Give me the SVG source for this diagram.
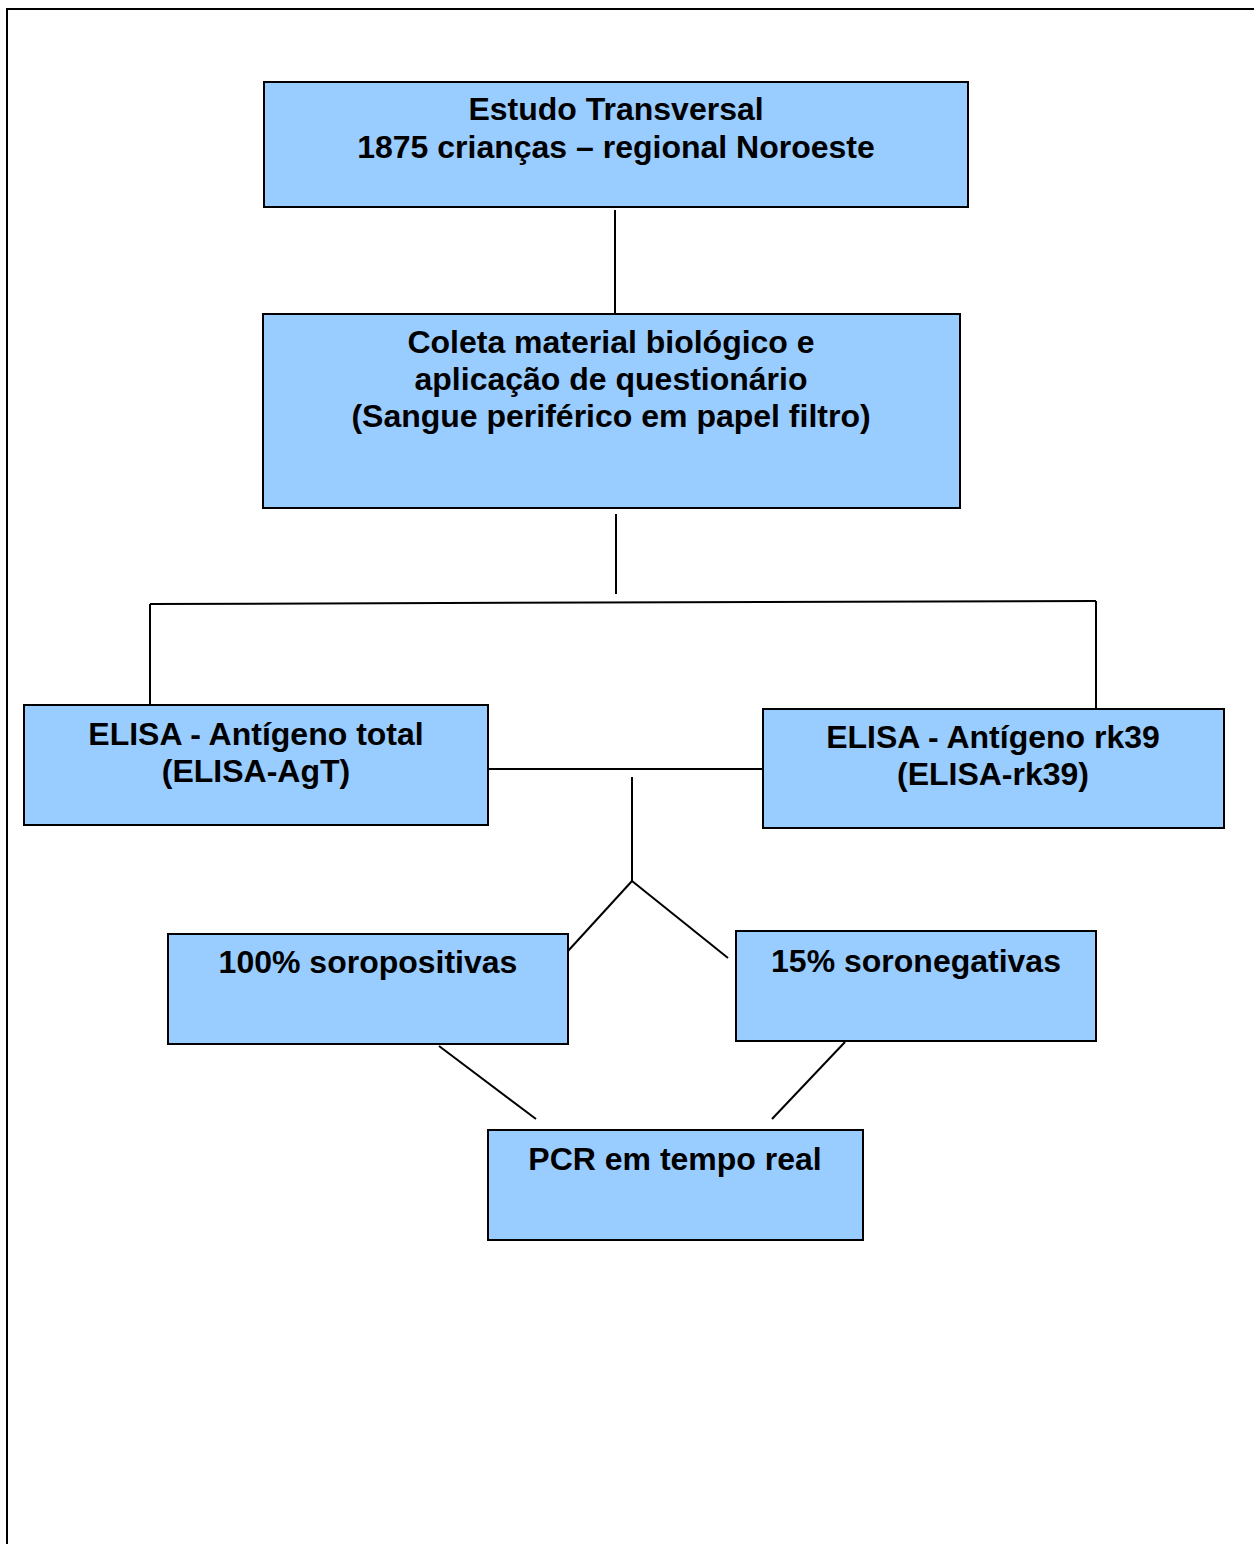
<svg xmlns="http://www.w3.org/2000/svg" width="1254" height="1544" viewBox="0 0 1254 1544">
<style>
.box{fill:#99CCFF;stroke:#000;stroke-width:2}
.t{font-family:"Liberation Sans",Arial,sans-serif;font-weight:bold;font-size:32px;fill:#000;text-anchor:middle}
.c{stroke:#000;stroke-width:2;fill:none}
</style>
<rect x="0" y="0" width="1254" height="1544" fill="#fff"/>
<path d="M7,1544 V9 H1254" fill="none" stroke="#000" stroke-width="2"/>
<g id="connectors">
<line class="c" x1="615" y1="210" x2="615" y2="313"/>
<line class="c" x1="616" y1="514" x2="616" y2="594"/>
<line class="c" x1="150" y1="604" x2="1096" y2="601"/>
<line class="c" x1="150" y1="604" x2="150" y2="705"/>
<line class="c" x1="1096" y1="601" x2="1096" y2="708"/>
<line class="c" x1="486" y1="769" x2="763" y2="769"/>
<line class="c" x1="632" y1="777" x2="632" y2="881"/>
<line class="c" x1="632" y1="881" x2="568" y2="951"/>
<line class="c" x1="632" y1="881" x2="728" y2="958"/>
<line class="c" x1="439" y1="1046" x2="536" y2="1119"/>
<line class="c" x1="845" y1="1042" x2="772" y2="1119"/>
</g>
<g id="n1">
<rect class="box" x="264" y="82" width="704" height="125"/>
<text class="t" x="616" y="120">Estudo Transversal</text>
<text class="t" x="616" y="158">1875 crianças – regional Noroeste</text>
</g>
<g id="n2">
<rect class="box" x="263" y="314" width="697" height="194"/>
<text class="t" x="611" y="353">Coleta material biológico e</text>
<text class="t" x="611" y="390">aplicação de questionário</text>
<text class="t" x="611" y="427">(Sangue periférico em papel filtro)</text>
</g>
<g id="n3">
<rect class="box" x="24" y="705" width="464" height="120"/>
<text class="t" x="256" y="745">ELISA - Antígeno total</text>
<text class="t" x="256" y="782">(ELISA-AgT)</text>
</g>
<g id="n4">
<rect class="box" x="763" y="709" width="461" height="119"/>
<text class="t" x="993" y="748">ELISA - Antígeno rk39</text>
<text class="t" x="993" y="785">(ELISA-rk39)</text>
</g>
<g id="n5">
<rect class="box" x="168" y="934" width="400" height="110"/>
<text class="t" x="368" y="973">100% soropositivas</text>
</g>
<g id="n6">
<rect class="box" x="736" y="931" width="360" height="110"/>
<text class="t" x="916" y="972">15% soronegativas</text>
</g>
<g id="n7">
<rect class="box" x="488" y="1130" width="375" height="110"/>
<text class="t" x="675" y="1170">PCR em tempo real</text>
</g>
</svg>
